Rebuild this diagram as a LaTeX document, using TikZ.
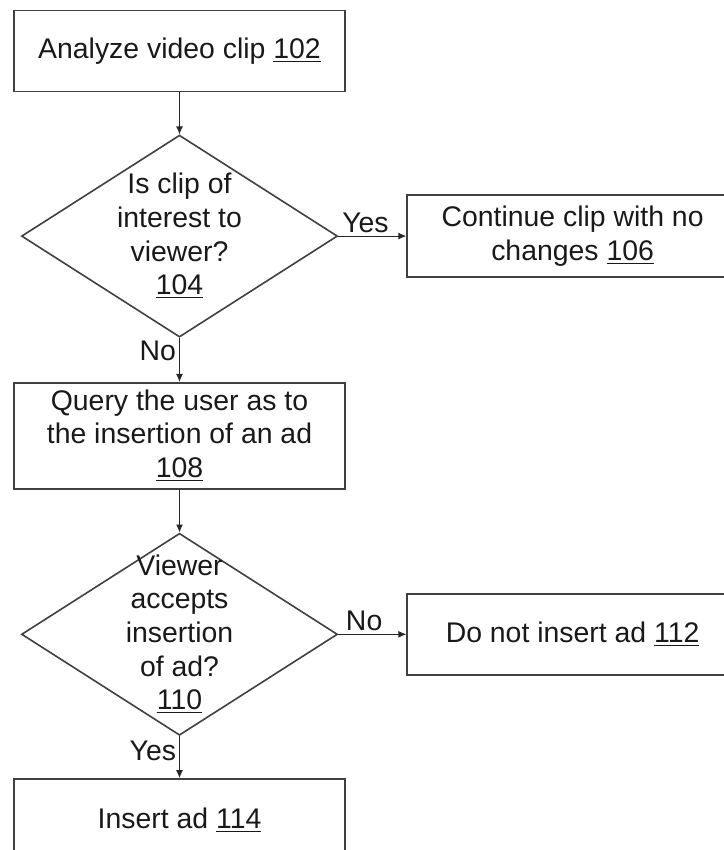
\documentclass[tikz,border=0pt]{standalone}
\usepackage{fontspec}
\setmainfont{Liberation Sans}
\usepackage{tikz}
\usetikzlibrary{positioning}
\usetikzlibrary{shapes.geometric}
\usetikzlibrary{arrows.meta}

\begin{document}
\begin{tikzpicture}[
	  every node/.style = {align=center, text=black!90, font=\fontsize{14.2pt}{16.8pt}\selectfont},
	  stepbox/.style = {shape=rectangle, draw=black!75, line width=0.8pt, minimum width=165.5pt, minimum height=40.5pt, inner sep=0pt},
	  decision/.style = {shape=diamond, draw=black!75, line width=0.8pt, minimum width=158pt, minimum height=101pt, inner sep=0pt},
	  link/.style = {draw=black!85, line width=0.5pt, -{Latex[length=4pt,width=3.5pt]}},
	  answer/.style = {inner sep=1.5pt},
	  node distance=21pt
	]
	  \useasboundingbox (0,0) rectangle (361.5pt,-425pt);

	  % main column
	  \node[stepbox] (analyze) at (89.75pt,-25.5pt) {Analyze video clip \underline{102}};
	  \node[decision, below=21pt of analyze,
		label={center:{Is clip of\\interest to\\viewer?\\\underline{104}}}] (interest) {};
	  \node[stepbox, minimum height=53pt, below=22pt of interest] (query) {Query the user as to\\the insertion of an ad\\\underline{108}};
	  \node[decision, below=21.5pt of query,
		label={center:{Viewer\\accepts\\insertion\\of ad?\\\underline{110}}}] (accepts) {};
	  \node[stepbox, minimum height=41pt, below=21pt of accepts] (insert) {Insert ad \underline{114}};

	  % side branches
	  \node[stepbox, minimum height=41pt, right=34pt of interest] (continue) {Continue clip with no\\changes \underline{106}};
	  \node[stepbox, right=34pt of accepts] (noinsert) {Do not insert ad \underline{112}};

	  \draw[link] (analyze) -- (interest);
	  \draw[link] (interest) -- node[answer, above, pos=0.4] {Yes} (continue);
	  \draw[link] (interest) -- node[answer, left, pos=0.3] {No} (query);
	  \draw[link] (query) -- (accepts);
	  \draw[link] (accepts) -- node[answer, above, pos=0.38] {No} (noinsert);
	  \draw[link] (accepts) -- node[answer, left, pos=0.36] {Yes} (insert);
	\end{tikzpicture}
\end{document}
